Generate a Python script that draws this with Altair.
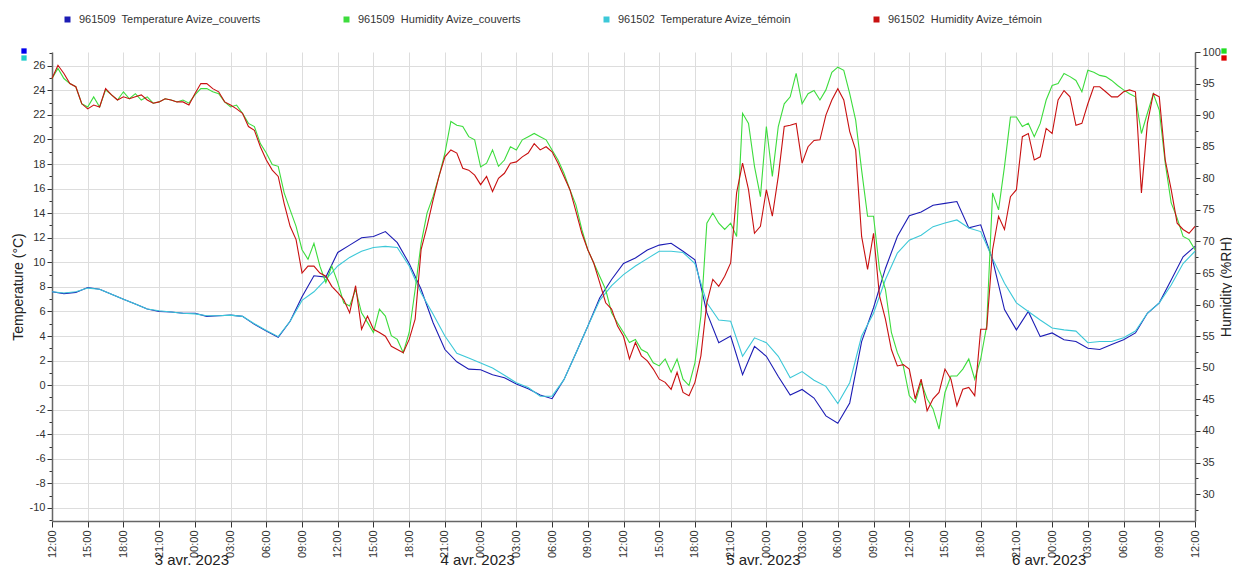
import altair as alt
import pandas as pd

FONT = "Liberation Sans"

# hours since 3 avr. 2023 12:00
hours = list(range(97))
hum_hours = [i / 2 for i in range(193)]

temp_couverts = [7.6, 7.45, 7.55, 7.95, 7.8, 7.4, 7.0, 6.6, 6.2, 6.0,
                 5.95, 5.85, 5.85, 5.6, 5.65, 5.7, 5.6, 4.95, 4.4, 3.9,
                 5.2, 7.2, 8.9, 8.8, 10.8, 11.4, 12.0, 12.1, 12.5, 11.6,
                 9.9, 7.8, 5.1, 2.9, 1.9, 1.3, 1.25, 0.85, 0.6, 0.1,
                 -0.3, -0.8, -1.1, 0.45, 2.6, 4.8, 7.1, 8.6, 9.9, 10.35,
                 11.0, 11.4, 11.55, 10.9, 10.2, 5.9, 3.45, 4.0, 0.85, 3.15,
                 2.35, 0.7, -0.8, -0.35, -1.05, -2.5, -3.1, -1.45, 3.55, 6.3,
                 9.5, 12.1, 13.8, 14.1, 14.65, 14.8, 14.95, 12.8, 13.05, 10.2,
                 6.15, 4.5, 6.0, 3.95, 4.25, 3.7, 3.55, 3.0, 2.9, 3.3,
                 3.7, 4.25, 5.85, 6.7, 8.55, 10.45, 11.3]

temp_temoin = [7.6, 7.5, 7.6, 7.9, 7.8, 7.4, 7.0, 6.6, 6.2, 6.05,
               5.95, 5.85, 5.8, 5.65, 5.65, 5.7, 5.6, 5.0, 4.45, 3.95,
               5.2, 6.9, 7.6, 8.6, 9.7, 10.4, 10.9, 11.2, 11.3, 11.2,
               9.7, 7.5, 5.8, 4.0, 2.6, 2.2, 1.8, 1.4, 0.8, 0.2,
               -0.2, -0.9, -0.9, 0.45, 2.6, 4.8, 6.9, 8.1, 9.0, 9.7,
               10.3, 10.9, 10.9, 10.8, 9.9, 6.7, 5.3, 5.2, 2.35, 3.85,
               3.45, 2.35, 0.6, 1.1, 0.4, -0.1, -1.5, 0.2, 4.0, 5.85,
               8.6, 10.75, 11.8, 12.2, 12.9, 13.2, 13.45, 12.8, 12.5, 10.3,
               8.3, 6.7, 6.0, 5.3, 4.65, 4.5, 4.4, 3.45, 3.55, 3.55,
               3.85, 4.4, 5.85, 6.7, 8.15, 9.9, 10.9]

# half-hourly readings, %RH
hum_couverts = [95.8, 97.4, 95.8, 95.0, 94.5, 91.8, 91.3, 92.9, 91.3, 94.0,
                93.2, 92.4, 93.7, 92.6, 93.4, 92.4, 92.9, 91.9, 92.1, 92.6,
                92.4, 92.1, 92.4, 91.9, 93.2, 94.2, 94.2, 93.7, 93.4, 92.1,
                91.3, 91.6, 90.3, 88.7, 88.2, 85.5, 84.0, 82.2, 81.9, 77.7,
                75.0, 72.4, 68.7, 67.2, 69.7, 66.1, 63.5, 66.1, 63.5, 60.3,
                59.8, 62.4, 58.7, 57.2, 55.6, 59.3, 58.2, 55.1, 54.5, 52.4,
                55.6, 62.4, 69.7, 74.5, 77.1, 80.3, 84.0, 89.0, 88.4, 88.2,
                86.6, 86.1, 81.8, 82.4, 84.5, 81.9, 82.9, 85.0, 84.5, 86.1,
                86.6, 87.1, 86.6, 86.1, 84.5, 82.9, 80.8, 78.2, 75.8, 71.9,
                68.7, 66.6, 64.5, 62.4, 58.7, 57.1, 55.6, 54.0, 54.5, 52.9,
                52.4, 50.8, 50.3, 51.4, 49.3, 51.4, 48.2, 47.2, 50.8, 58.2,
                72.9, 74.5, 72.9, 71.9, 72.9, 70.8, 90.3, 88.7, 81.9, 77.1,
                88.2, 80.3, 88.2, 91.8, 92.9, 96.6, 91.8, 93.4, 93.9, 92.4,
                94.0, 96.8, 97.6, 97.1, 93.4, 89.2, 81.3, 74.0, 74.0, 65.6,
                62.4, 55.6, 52.4, 50.3, 45.6, 44.5, 47.7, 45.1, 43.5, 40.3,
                46.1, 48.7, 48.7, 49.8, 51.4, 48.2, 51.4, 56.6, 77.7, 75.0,
                81.9, 89.7, 89.7, 88.2, 88.7, 86.6, 88.7, 92.4, 94.7, 95.0,
                96.6, 96.1, 95.5, 93.7, 97.1, 96.8, 96.3, 96.1, 95.5, 94.7,
                94.0, 93.4, 92.9, 87.1, 90.3, 93.4, 90.8, 82.4, 76.1, 73.7,
                70.8, 70.3, 68.7]

hum_temoin = [95.8, 97.9, 96.6, 95.0, 94.5, 91.8, 91.0, 91.6, 91.3, 94.2,
              93.2, 92.4, 92.9, 92.6, 92.9, 93.2, 92.4, 91.9, 92.1, 92.6,
              92.4, 92.1, 92.1, 91.6, 93.4, 95.0, 95.0, 94.2, 93.7, 92.1,
              91.6, 91.0, 90.3, 88.2, 87.6, 85.0, 82.9, 81.3, 80.3, 76.0,
              72.4, 70.3, 65.0, 66.1, 66.1, 65.0, 64.5, 62.9, 61.9, 60.8,
              58.7, 63.0, 56.1, 58.2, 56.1, 55.6, 55.0, 53.4, 52.9, 52.4,
              54.5, 57.7, 68.7, 72.4, 76.5, 80.3, 83.4, 84.5, 84.0, 81.6,
              81.3, 80.5, 79.0, 80.3, 77.9, 80.0, 80.8, 82.4, 82.6, 83.4,
              84.0, 85.5, 84.5, 85.0, 84.2, 82.4, 80.3, 78.2, 74.8, 71.3,
              68.7, 66.6, 63.5, 60.3, 59.3, 56.6, 55.0, 51.4, 54.0, 51.9,
              51.1, 49.8, 48.2, 47.7, 46.6, 49.3, 46.1, 45.6, 47.7, 51.9,
              60.3, 64.0, 62.9, 64.5, 66.6, 77.7, 82.4, 78.2, 71.3, 72.4,
              78.2, 74.0, 80.3, 88.2, 88.4, 88.7, 82.4, 85.0, 86.0, 86.1,
              90.0, 92.4, 94.2, 92.4, 87.4, 84.5, 70.8, 65.6, 71.3, 61.4,
              57.7, 52.9, 50.3, 50.5, 49.8, 45.1, 48.2, 43.2, 45.1, 46.1,
              49.8, 48.2, 44.0, 46.6, 46.9, 45.6, 56.1, 56.1, 68.7, 74.0,
              71.9, 77.1, 78.2, 86.6, 87.1, 82.9, 83.4, 87.9, 87.1, 92.4,
              93.9, 92.9, 88.4, 88.7, 91.8, 94.5, 94.5, 93.7, 92.9, 92.9,
              93.7, 94.0, 93.7, 77.7, 88.7, 93.4, 92.9, 82.9, 78.2, 72.9,
              71.9, 71.3, 72.4]

series_names = ["961509\u00a0 Temperature Avize_couverts",
                "961509\u00a0 Humidity Avize_couverts",
                "961502\u00a0 Temperature Avize_témoin",
                "961502\u00a0 Humidity Avize_témoin"]
series_colors = ["#1c1cb4", "#3ddc3d", "#3cc8d8", "#c81010"]

date_labels = ["3 avr. 2023", "4 avr. 2023", "5 avr. 2023", "6 avr. 2023"]
date_hours = [12, 36, 60, 84]

x_ticks = list(range(0, 97, 3))
temp_ticks = list(range(-11, 28))
hum_ticks = [25 + 2.5 * i for i in range(1, 31)]


def frame(xs, values, name):
    return pd.DataFrame({"h": xs, "v": values, "series": name})


color_enc = alt.Color(
    "series:N",
    scale=alt.Scale(domain=series_names, range=series_colors),
    legend=alt.Legend(
        title=None, orient="none", legendX=10, legendY=-38,
        direction="horizontal", columns=4, columnPadding=77,
        symbolType="square", symbolSize=9, symbolStrokeWidth=3,
        labelFont=FONT, labelFontSize=11, labelColor="#333333",
        labelLimit=400, labelOffset=6,
    ),
)

x_axis = alt.Axis(
    values=x_ticks,
    labelExpr="((datum.value + 12) % 24 < 10 ? '0' : '') + toString((datum.value + 12) % 24) + ':00'",
    labelAngle=270, labelFont=FONT, labelFontSize=11, labelColor="#333333",
    labelPadding=3, labelOverlap=False, labelFlush=False,
    tickSize=6, tickColor="#333333", tickWidth=1,
    domainColor="#666666", domainWidth=1.5,
    grid=True, gridColor="#dddddd", gridWidth=1, title=None,
)
x_enc = alt.X("h:Q", scale=alt.Scale(domain=[0, 96], nice=False, zero=False), axis=x_axis)

t_axis = alt.Axis(
    orient="left", values=temp_ticks,
    labelExpr="datum.value % 2 == 0 ? toString(datum.value) : ''",
    labelFont=FONT, labelFontSize=11, labelColor="#333333", labelPadding=2,
    tickSize={"condition": {"test": "datum.value % 2 == 0", "value": 5}, "value": 3},
    tickColor="#333333",
    domainColor="#666666", domainWidth=1.5,
    grid=True, gridColor="#dddddd", gridWidth=1,
    gridOpacity={"condition": {"test": "datum.value % 2 == 0", "value": 1}, "value": 0},
    title="Temperature (°C)", titleFont=FONT, titleFontSize=14, titleFontWeight="normal",
    titleColor="#222222", titleAngle=270, titleX=-34, titleY=234.5,
    titleBaseline="middle", titleAlign="center",
)
t_enc = alt.Y("v:Q", scale=alt.Scale(domain=[-11.06, 27.12], nice=False, zero=False), axis=t_axis)

h_axis = alt.Axis(
    orient="right", values=hum_ticks,
    labelExpr="datum.value % 5 == 0 ? toString(datum.value) : ''",
    labelFont=FONT, labelFontSize=11, labelColor="#333333", labelPadding=2,
    tickSize={"condition": {"test": "datum.value % 5 == 0", "value": 5}, "value": 3},
    tickColor="#333333",
    domainColor="#666666", domainWidth=1.5, grid=False,
    title="Humidity (%RH)", titleFont=FONT, titleFontSize=14, titleFontWeight="normal",
    titleColor="#222222", titleAngle=270, titleX=31, titleY=234.5,
    titleBaseline="middle", titleAlign="center",
)
h_enc = alt.Y("v:Q", scale=alt.Scale(domain=[25.75, 100], nice=False, zero=False), axis=h_axis)


def line(df, y_enc):
    return alt.Chart(df).mark_line(strokeWidth=1.1, interpolate="linear").encode(
        x=x_enc, y=y_enc, color=color_enc
    )


dates_df = pd.DataFrame({"h": date_hours, "label": date_labels})
dates = alt.Chart(dates_df).mark_text(
    font=FONT, fontSize=15, color="#222222", baseline="alphabetic", dx=-3
).encode(x=x_enc, y=alt.value(513), text="label:N")

one = pd.DataFrame({"k": [0]})


def corner(xp, yp, c):
    return alt.Chart(one).mark_square(size=28, opacity=1).encode(
        x=alt.value(xp), y=alt.value(yp), color=alt.value(c)
    )


temp_layer = alt.layer(
    line(frame(hours, temp_couverts, series_names[0]), t_enc),
    line(frame(hours, temp_temoin, series_names[2]), t_enc),
    dates,
    corner(-28, -1, "#0000ee"),
    corner(-28, 6, "#22cccc"),
    corner(1172, -1, "#22dd22"),
    corner(1172, 6, "#dd0000"),
)
hum_layer = alt.layer(
    line(frame(hum_hours, hum_couverts, series_names[1]), h_enc),
    line(frame(hum_hours, hum_temoin, series_names[3]), h_enc),
)

chart = (
    alt.layer(temp_layer, hum_layer)
    .resolve_scale(y="independent")
    .properties(
        width=1143, height=469,
        padding={"left": 44, "top": 44, "right": 37, "bottom": 48},
        autosize=alt.AutoSizeParams(type="none"),
        background="white",
    )
    .configure_view(strokeWidth=0)
)

chart.save("out.html", embed_options={"renderer": "svg", "actions": False})
